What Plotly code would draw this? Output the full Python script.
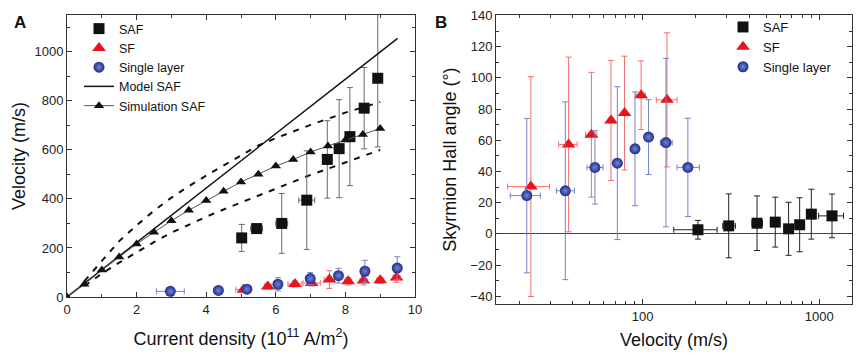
import plotly.graph_objects as go

# ---------------- Panel A data ----------------
saf_a_j = [5.02, 5.45, 6.17, 6.89, 7.48, 7.82, 8.13, 8.54, 8.93]
saf_a_v = [241, 279, 300, 395, 561, 605, 654, 770, 892]
saf_a_verr = [55, 12, 122, 201, 158, 200, 200, 166, 280]
saf_a_jerr = [0.08, 0.17, 0.17, 0.23, 0.08, 0.05, 0.05, 0.05, 0.05]

sf_a_j = [5.07, 5.77, 6.55, 7.03, 7.54, 8.08, 8.52, 9.0, 9.47]
sf_a_v = [30, 43, 53, 57, 71, 64, 67, 68, 80]
sf_a_verr = [8, 10, 12, 12, 36, 15, 18, 12, 20]
sf_a_jerr = [0.22, 0.1, 0.2, 0.25, 0.15, 0.1, 0.1, 0.1, 0.1]

sl_a_j = [2.97, 4.35, 5.17, 6.06, 6.99, 7.8, 8.56, 9.49]
sl_a_v = [23, 27, 32, 52, 75, 87, 105, 118]
sl_a_verr = [0, 0, 5, 27, 25, 30, 45, 46]
sl_a_jerr = [0.4, 0, 0.05, 0.05, 0.05, 0.05, 0.05, 0.05]

sim_j = [0, 0.5, 1.0, 1.5, 2.0, 2.5, 3.0, 3.5, 4.0, 4.5, 5.0, 5.5, 6.0, 6.5, 7.0, 7.5, 8.0, 8.5, 9.0]
sim_v = [0, 52, 110, 163, 216, 264, 311, 354, 394, 431, 469, 501, 534, 561, 591, 616, 640, 663, 687]

model_j = [0, 9.5]
model_v = [0, 1055]

band_j = [0.5, 1.0, 1.5, 2.0, 2.5, 3.0, 3.5, 4.0, 4.5, 5.0, 5.5, 6.0, 6.5, 7.0, 7.5, 8.0, 8.5, 9.0]
band_upper = [65, 148, 228, 292, 352, 405, 452, 495, 536, 580, 618, 648, 676, 702, 727, 752, 773, 795]
band_lower = [45, 95, 140, 183, 224, 262, 296, 327, 357, 385, 413, 443, 472, 498, 523, 548, 574, 600]

# ---------------- Panel B data ----------------
saf_b_v = [205.6, 307, 444, 563, 670, 774, 901, 1180]
saf_b_ang = [2.6, 5.1, 6.8, 7.5, 3.2, 5.8, 12.6, 11.5]
saf_b_err = [6, 20.5, 17.5, 16, 17, 17.3, 16, 14]
saf_b_vlo = [150, 284, 416, 540, 670, 774, 901, 991]
saf_b_vhi = [264, 335, 477, 596, 670, 774, 901, 1371]

sf_b_v = [23.3, 38.1, 51.3, 66.2, 79, 98, 137.3]
sf_b_ang = [30.3, 57.3, 63.5, 72.7, 77.4, 88.9, 85.9]
sf_b_err = [70.5, 56, 40, 38.5, 36.5, 22, 43]
sf_b_vlo = [17.2, 33.5, 47.5, 64.0, 77.0, 91.5, 119.5]
sf_b_vhi = [29.7, 42.6, 55.0, 68.5, 81.0, 103.5, 156.6]

sl_b_v = [22.1, 36.5, 53.7, 71.9, 90.5, 108, 135.5, 180.3]
sl_b_ang = [24.5, 27.6, 42.6, 45.3, 54.5, 62, 58.5, 42.6]
sl_b_err = [49.5, 57, 23.5, 49, 36.5, 24, 54, 31.5]
sl_b_vlo = [17.8, 32.5, 48.4, 71.9, 86.5, 108, 126, 156.6]
sl_b_vhi = [26.4, 41.1, 59.7, 71.9, 94.5, 108, 147, 209.5]

FONT = "Liberation Sans, Arial, sans-serif"
BLACK = "#111111"
RED = "#e8141c"
BLUE = "#1f2d8c"
BLUE_LIGHT = "#7586d2"
ERR_GRAY = "#6a6a6a"
ERR_RED = "#f07070"
ERR_BLUE = "#7483c8"

fig = go.Figure()

# --- Panel A ---
for band in (band_upper, band_lower):
    fig.add_trace(go.Scatter(x=band_j, y=band, mode="lines",
                             line=dict(color=BLACK, width=2, dash="6px,7px"),
                             showlegend=False, xaxis="x", yaxis="y", hoverinfo="skip"))

fig.add_trace(go.Scatter(
    x=saf_a_j, y=saf_a_v, mode="markers", name="SAF",
    marker=dict(symbol="square", size=11, color=BLACK),
    error_y=dict(type="data", array=saf_a_verr, color=ERR_GRAY, thickness=1, width=3),
    error_x=dict(type="data", array=saf_a_jerr, color=ERR_GRAY, thickness=1, width=3),
    xaxis="x", yaxis="y", legend="legend"))
fig.add_trace(go.Scatter(
    x=sf_a_j, y=sf_a_v, mode="markers", name="SF",
    marker=dict(symbol="triangle-up", size=12, color=RED),
    error_y=dict(type="data", array=sf_a_verr, color=ERR_RED, thickness=1, width=3),
    error_x=dict(type="data", array=sf_a_jerr, color=ERR_RED, thickness=1, width=3),
    xaxis="x", yaxis="y", legend="legend"))
fig.add_trace(go.Scatter(
    x=sl_a_j, y=sl_a_v, mode="markers", name="Single layer",
    marker=dict(symbol="circle", size=11, color=BLUE, gradient=dict(type="radial", color=BLUE_LIGHT)),
    error_y=dict(type="data", array=sl_a_verr, color=ERR_BLUE, thickness=1, width=3),
    error_x=dict(type="data", array=sl_a_jerr, color=ERR_BLUE, thickness=1, width=3),
    xaxis="x", yaxis="y", legend="legend"))
fig.add_trace(go.Scatter(
    x=model_j, y=model_v, mode="lines", name="Model SAF",
    line=dict(color=BLACK, width=1.5), xaxis="x", yaxis="y", legend="legend"))
fig.add_trace(go.Scatter(
    x=sim_j, y=sim_v, mode="lines+markers", name="Simulation SAF",
    line=dict(color="#555555", width=1),
    marker=dict(symbol="triangle-up", size=9, color=BLACK),
    xaxis="x", yaxis="y", legend="legend"))

# --- Panel B ---
def errs(v, lo, hi):
    return [h - c for c, h in zip(v, hi)], [c - l for c, l in zip(v, lo)]

p, m = errs(saf_b_v, saf_b_vlo, saf_b_vhi)
fig.add_trace(go.Scatter(
    x=saf_b_v, y=saf_b_ang, mode="markers", name="SAF",
    marker=dict(symbol="square", size=11, color=BLACK),
    error_y=dict(type="data", array=saf_b_err, color="#222222", thickness=1, width=3),
    error_x=dict(type="data", array=p, arrayminus=m, color="#222222", thickness=1, width=3),
    xaxis="x2", yaxis="y2", legend="legend2"))
p, m = errs(sf_b_v, sf_b_vlo, sf_b_vhi)
fig.add_trace(go.Scatter(
    x=sf_b_v, y=sf_b_ang, mode="markers", name="SF",
    marker=dict(symbol="triangle-up", size=12, color=RED),
    error_y=dict(type="data", array=sf_b_err, color=ERR_RED, thickness=1, width=3),
    error_x=dict(type="data", array=p, arrayminus=m, color=ERR_RED, thickness=1, width=3),
    xaxis="x2", yaxis="y2", legend="legend2"))
p, m = errs(sl_b_v, sl_b_vlo, sl_b_vhi)
fig.add_trace(go.Scatter(
    x=sl_b_v, y=sl_b_ang, mode="markers", name="Single layer",
    marker=dict(symbol="circle", size=11, color=BLUE, gradient=dict(type="radial", color=BLUE_LIGHT)),
    error_y=dict(type="data", array=sl_b_err, color=ERR_BLUE, thickness=1, width=3),
    error_x=dict(type="data", array=p, arrayminus=m, color=ERR_BLUE, thickness=1, width=3),
    xaxis="x2", yaxis="y2", legend="legend2"))

# The page body has an 8px margin, so the figure is 8px smaller and all
# positions below are page pixels minus 8.
W, H = 857, 347
OFF = 8

def px_x(p):
    return (p - OFF) / W

def px_y(p):
    return 1 - (p - OFF) / H

axis_common = dict(showline=True, linecolor="#333333", linewidth=1, mirror="allticks",
                   ticks="inside", ticklen=5, tickcolor="#333333", showgrid=False, zeroline=False,
                   tickfont=dict(family=FONT, size=13, color="#222222"),
                   title_font=dict(family=FONT, size=18, color="#111111"), automargin=False)
minor_common = dict(ticks="inside", ticklen=3, tickcolor="#333333")

fig.update_layout(
    width=W, height=H, margin=dict(l=0, r=0, t=0, b=0),
    paper_bgcolor="white", plot_bgcolor="white",
    font=dict(family=FONT, color="#111111"),
    xaxis=dict(domain=[px_x(67), px_x(415)], range=[0, 10], tickvals=[0, 2, 4, 6, 8, 10],
               minor=dict(tickvals=[1, 3, 5, 7, 9], **minor_common),
               title=dict(text="Current density (10<sup>11</sup> A/m<sup>2</sup>)", standoff=16),
               anchor="y", **axis_common),
    yaxis=dict(domain=[px_y(297), px_y(15)], range=[0, 1150],
               tickvals=[0, 200, 400, 600, 800, 1000],
               minor=dict(tickvals=[100, 300, 500, 700, 900, 1100], **minor_common),
               title=dict(text="Velocity (m/s)", standoff=4), anchor="x", **axis_common),
    xaxis2=dict(domain=[px_x(496), px_x(852)], type="log", range=[1.170, 3.185],
                tickvals=[100, 1000], ticktext=["100", "1000"],
                minor=dict(tickvals=[20, 30, 40, 50, 60, 70, 80, 90, 200, 300, 400, 500, 600, 700, 800, 900],
                           **minor_common),
                title=dict(text="Velocity (m/s)", standoff=10), anchor="y2", **axis_common),
    yaxis2=dict(domain=[px_y(304), px_y(15)], range=[-45, 140.3],
                tickvals=[-40, -20, 0, 20, 40, 60, 80, 100, 120, 140],
                minor=dict(tickvals=[-30, -10, 10, 30, 50, 70, 90, 110, 130], **minor_common),
                title=dict(text="Skyrmion Hall angle (°)", standoff=9), anchor="x2", **axis_common),
    legend=dict(x=px_x(79), y=px_y(14), xanchor="left", yanchor="top", bgcolor="rgba(0,0,0,0)",
                font=dict(family=FONT, size=12.5, color="#111111"), tracegroupgap=0),
    legend2=dict(x=px_x(723), y=px_y(12), xanchor="left", yanchor="top", bgcolor="rgba(0,0,0,0)",
                 font=dict(family=FONT, size=13, color="#111111"), tracegroupgap=0),
    showlegend=True,
    annotations=[
        dict(text="<b>A</b>", x=px_x(20), y=px_y(22), xref="paper", yref="paper", showarrow=False,
             xanchor="center", yanchor="middle", font=dict(family=FONT, size=17, color="#111111")),
        dict(text="<b>B</b>", x=px_x(441), y=px_y(22), xref="paper", yref="paper", showarrow=False,
             xanchor="center", yanchor="middle", font=dict(family=FONT, size=17, color="#111111")),
    ],
)
fig.update_yaxes(selector=dict(anchor="x2"), zeroline=True, zerolinecolor="#444444", zerolinewidth=1)

fig.write_html("out.html")
